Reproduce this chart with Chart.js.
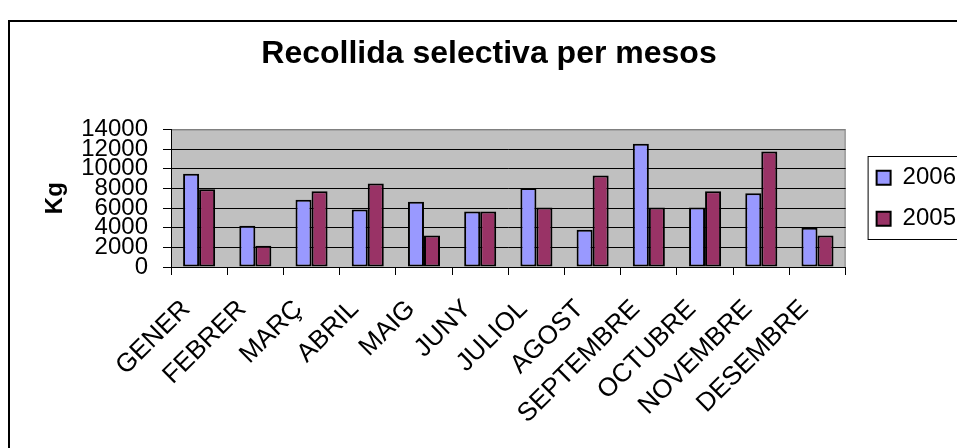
<!DOCTYPE html>
<html>
<head>
<meta charset="utf-8">
<title>Recollida selectiva per mesos</title>
<script src="https://cdn.jsdelivr.net/npm/chart.js@4.4.0/dist/chart.umd.min.js"></script>
<style>
  html, body { margin: 0; padding: 0; background: #fff; overflow: hidden; }
  #wrap { width: 1000px; height: 448px; }
</style>
</head>
<body>
<div id="wrap"><canvas id="chart" width="1000" height="448"></canvas></div>
<script>
// ── Data ──────────────────────────────────────────
const months = ['GENER', 'FEBRER', 'MARÇ', 'ABRIL', 'MAIG', 'JUNY', 'JULIOL',
  'AGOST', 'SEPTEMBRE', 'OCTUBRE', 'NOVEMBRE', 'DESEMBRE'];
const kg2006 = [9500, 4200, 6850, 5850, 6650, 5650, 8050, 3800, 12550, 6050, 7500, 4000];
const kg2005 = [7900, 2150, 7700, 8500, 3200, 5650, 6050, 9300, 6050, 7700, 11750, 3200];
const yTicks = [0, 2000, 4000, 6000, 8000, 10000, 12000, 14000];

Chart.defaults.font.family = "'Liberation Sans', Arial, sans-serif";
Chart.defaults.color = '#000';

// ── Frames: grey plot area, outer border, legend box ──
const chartFrame = {
  id: 'chartFrame',
  afterLayout(chart) {
    // leave a gap between the plot and the legend
    chart.legend.left += 14;
    chart.legend.right += 14;
  },
  beforeDraw(chart) {
    const { ctx, chartArea: a } = chart;
    ctx.save();
    ctx.fillStyle = '#c0c0c0';
    ctx.fillRect(a.left, a.top, a.right - a.left, a.bottom - a.top);
    ctx.strokeStyle = '#808080';
    ctx.lineWidth = 1;
    ctx.strokeRect(a.left + 0.5, a.top + 0.5, a.right - a.left - 1, a.bottom - a.top);

    ctx.strokeStyle = '#000';
    ctx.lineWidth = 2;
    ctx.strokeRect(9, 21, chart.width + 20, chart.height + 20);

    const mid = (a.top + a.bottom) / 2;
    ctx.lineWidth = 1;
    ctx.strokeRect(chart.legend.left + 8.5, Math.round(mid - 42) + 0.5, 200, 83);
    ctx.restore();
  }
};

new Chart(document.getElementById('chart'), {
  type: 'bar',
  data: {
    labels: months,
    datasets: [
      { label: '2006', data: kg2006, backgroundColor: '#9999ff', borderColor: '#000', borderWidth: 2, borderSkipped: false },
      { label: '2005', data: kg2005, backgroundColor: '#993366', borderColor: '#000', borderWidth: 2, borderSkipped: false }
    ]
  },
  options: {
    responsive: false,
    animation: false,
    events: [],
    layout: { padding: { left: 26, right: 48, top: 0, bottom: 0 } },
    datasets: { bar: { categoryPercentage: 0.57, barPercentage: 1 } },
    plugins: {
      title: {
        display: true,
        text: 'Recollida selectiva per mesos',
        font: { size: 32, weight: 'bold' },
        padding: { top: 35, bottom: 56 }
      },
      legend: {
        position: 'right',
        fullSize: false,
        labels: { boxWidth: 14, boxHeight: 14, padding: 17, font: { size: 24 } }
      },
      tooltip: { enabled: false }
    },
    scales: {
      x: {
        grid: { drawOnChartArea: false, color: '#000', tickLength: 8 },
        border: { color: '#000', width: 1 },
        ticks: { minRotation: 45, maxRotation: 45, autoSkip: false, font: { size: 26 }, padding: 19, labelOffset: -13 },
        afterFit(scale) { scale.height = 181; }
      },
      y: {
        min: 0,
        max: 14000,
        afterBuildTicks(scale) { scale.ticks = yTicks.map(v => ({ value: v })); },
        grid: {
          color: ctx => ctx.tick && ctx.tick.value === 14000 ? '#808080' : '#000',
          tickColor: '#000',
          tickLength: 8
        },
        border: { color: '#000', width: 1 },
        ticks: { autoSkip: false, font: { size: 24 }, padding: 15, callback: v => String(v) },
        title: { display: true, text: 'Kg', font: { size: 24, weight: 'bold' }, padding: { top: 15, bottom: 0 } },
        afterFit(scale) { scale.width = 145; }
      }
    }
  },
  plugins: [chartFrame]
});
</script>
</body>
</html>
